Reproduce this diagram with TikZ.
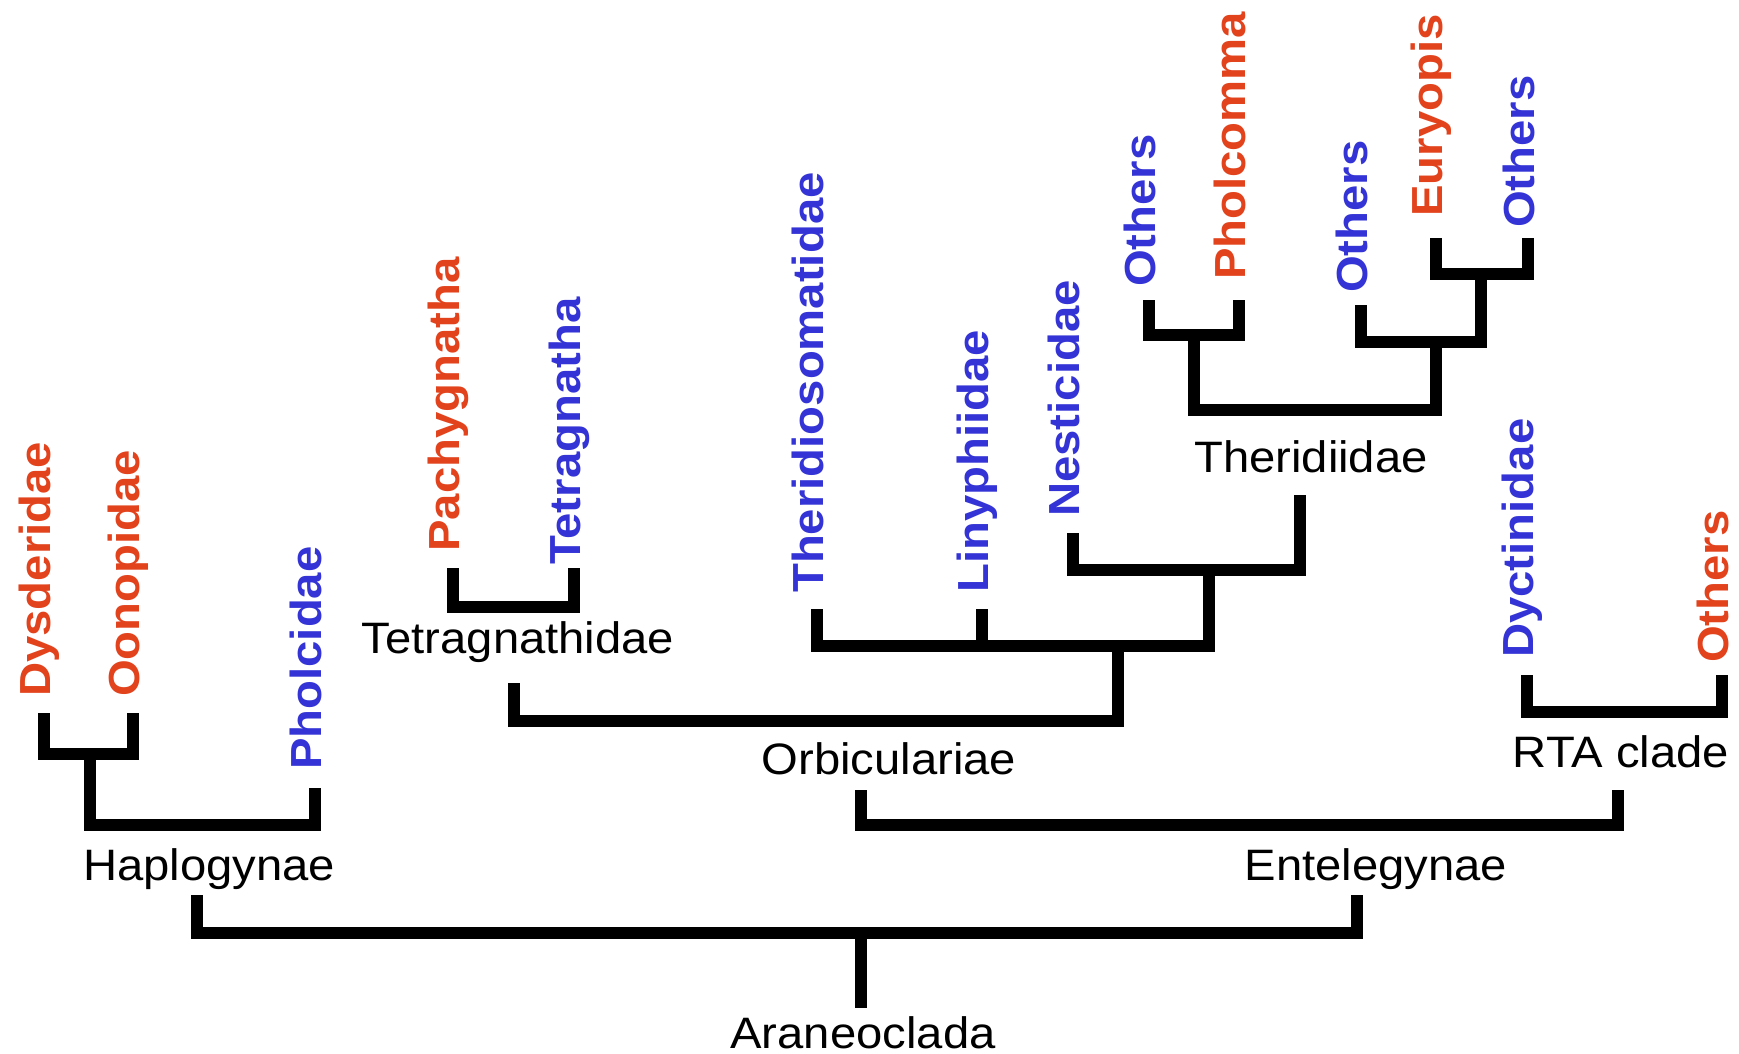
\documentclass[tikz,border=0pt]{standalone}
\usepackage{fontspec}
\setmainfont{Liberation Sans}
\definecolor{tred}{RGB}{226,66,28}
\definecolor{tblue}{RGB}{52,52,214}
\newcommand{\stretchlbl}[1]{\scalebox{1.087}[1]{#1}}
\newcommand{\stretchcld}[1]{\scalebox{1.073}[1]{#1}}
\begin{document}
\begin{tikzpicture}[x=1pt,y=-1pt,
  br/.style={line width=12.5pt, line join=miter, line cap=butt, draw=black},
  leaf/.style={rotate=90, anchor=base west, inner sep=0pt, font=\fontsize{43.5}{50}\selectfont\bfseries},
  redleaf/.style={leaf, text=tred},
  blueleaf/.style={leaf, text=tblue},
  clade/.style={anchor=base, inner sep=0pt, font=\fontsize{44}{50}\selectfont, text=black}
]
\useasboundingbox (0,0) rectangle (1739,1054);
\fill[white] (0,0) rectangle (1739,1054);

% ---- leaf labels ----
\node[redleaf]  (dys)  at (50,697)   {\stretchlbl{Dysderidae}};
\node[redleaf]  (oon)  at (139,697)  {\stretchlbl{Oonopidae}};
\node[blueleaf] (pho)  at (321,770)  {\stretchlbl{Pholcidae}};
\node[redleaf]  (pac)  at (459,552)  {\stretchlbl{Pachygnatha}};
\node[blueleaf] (tga)  at (580,565)  {\stretchlbl{Tetragnatha}};
\node[blueleaf] (ths)  at (823,593)  {\stretchlbl{Theridiosomatidae}};
\node[blueleaf] (lyn)  at (988,593)  {\stretchlbl{Linyphiidae}};
\node[blueleaf] (nes)  at (1079,517) {\stretchlbl{Nesticidae}};
\node[blueleaf] (oa)   at (1155,287) {\stretchlbl{Others}};
\node[redleaf]  (phc)  at (1245,280) {\stretchlbl{Pholcomma}};
\node[blueleaf] (ob)   at (1367,293) {\stretchlbl{Others}};
\node[redleaf]  (eur)  at (1442,217) {\stretchlbl{Euryopis}};
\node[blueleaf] (oc)   at (1534,228) {\stretchlbl{Others}};
\node[blueleaf] (dyc)  at (1533,658) {\stretchlbl{Dyctinidae}};
\node[redleaf]  (od)   at (1728,663) {\stretchlbl{Others}};

% ---- clade labels ----
\node[clade] (hapL) at (209,880)  {\stretchcld{Haplogynae}};
\node[clade] (araL) at (863,1048) {\stretchcld{Araneoclada}};
\node[clade] (entL) at (1376,880) {\stretchcld{Entelegynae}};
\node[clade] (rtaL) at (1621,767) {\stretchcld{RTA clade}};
\node[clade] (orbL) at (889,774)  {\stretchcld{Orbiculariae}};
\node[clade] (tetL) at (518,653)  {\stretchcld{Tetragnathidae}};
\node[clade] (thrL) at (1311,472) {\stretchcld{Theridiidae}};

% ---- stem tops and junctions ----
\coordinate (dysT) at (44,713);
\coordinate (oonT) at (133,713);
\coordinate (phoT) at (315,788);
\coordinate (hapJ) at (90,754);
\coordinate (hapM) at (200,825);
\coordinate (hapS) at (197,895);
\coordinate (entS) at (1357,895);
\coordinate (araM) at (861,933);
\coordinate (araB) at (861,1008);
\coordinate (orbS) at (861,790);
\coordinate (rtaS) at (1618,790);
\coordinate (entM) at (1240,825);
\coordinate (dycT) at (1527,675);
\coordinate (odT)  at (1722,675);
\coordinate (rtaM) at (1620,712);
\coordinate (tetS) at (514,683);
\coordinate (orbM) at (800,721);
\coordinate (pacT) at (453,568);
\coordinate (tgaT) at (574,568);
\coordinate (tetM) at (514,607);
\coordinate (thsT) at (817,609);
\coordinate (lynT) at (982,609);
\coordinate (linJ) at (1118,646);
\coordinate (nesJ) at (1209,570);
\coordinate (nesT) at (1073,533);
\coordinate (thrS) at (1300,495);
\coordinate (thrM) at (1300,410);
\coordinate (opJ)  at (1194,335);
\coordinate (oeJ)  at (1436,342);
\coordinate (oaT)  at (1149,300);
\coordinate (phcT) at (1239,300);
\coordinate (obT)  at (1361,305);
\coordinate (eoJ)  at (1481,274);
\coordinate (eurT) at (1436,238);
\coordinate (ocT)  at (1528,238);

% ---- branches ----
\draw[br] (dysT) |- (hapJ) -| (oonT);
\draw[br] (hapJ) |- (hapM) -| (phoT);
\draw[br] (hapS) |- (araM) -| (entS);
\draw[br] (araM) -- (araB);
\draw[br] (orbS) |- (entM) -| (rtaS);
\draw[br] (dycT) |- (rtaM) -| (odT);
\draw[br] (tetS) |- (orbM) -| (linJ);
\draw[br] (pacT) |- (tetM) -| (tgaT);
\draw[br] (thsT) |- (linJ) -| (nesJ);
\draw[br] (lynT) -- (lynT |- linJ);
\draw[br] (nesT) |- (nesJ) -| (thrS);
\draw[br] (opJ) |- (thrM) -| (oeJ);
\draw[br] (oaT) |- (opJ) -| (phcT);
\draw[br] (obT) |- (oeJ) -| (eoJ);
\draw[br] (eurT) |- (eoJ) -| (ocT);
\end{tikzpicture}
\end{document}
